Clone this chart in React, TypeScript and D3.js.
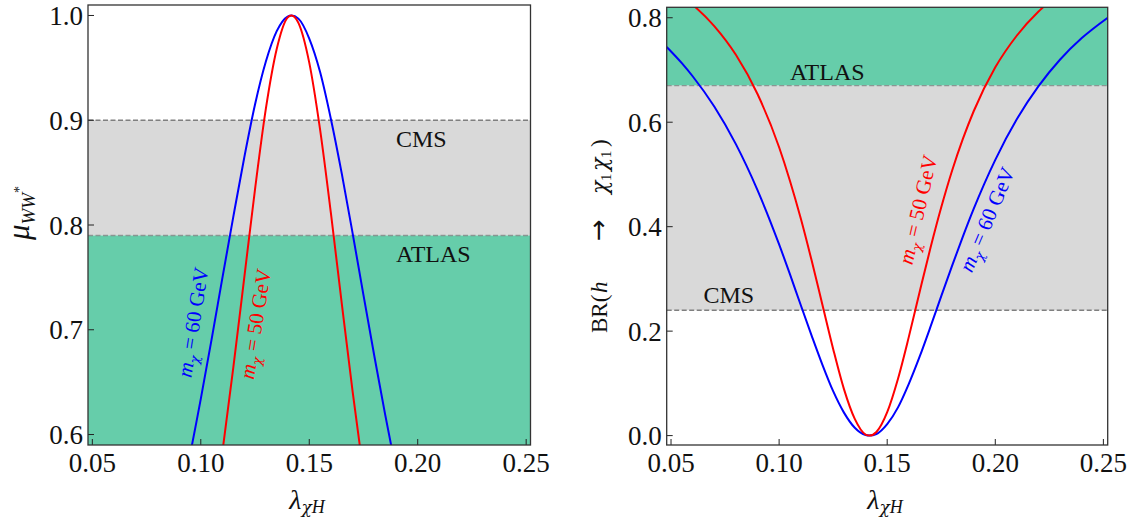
import React from 'react';
import * as d3 from 'd3';

// lambda_{chi H} grid
const lambda = [0.048, 0.055, 0.06, 0.07, 0.08, 0.09, 0.10, 0.105, 0.11, 0.115, 0.12, 0.125, 0.13, 0.135, 0.14, 0.1418, 0.145, 0.15, 0.155, 0.16, 0.165, 0.17, 0.175, 0.18, 0.185, 0.19, 0.20, 0.21, 0.22, 0.23, 0.24, 0.252];

// BR(h -> chi1 chi1), right panel
const brBlue60 = [0.744, 0.713, 0.688, 0.630, 0.558, 0.470, 0.366, 0.309, 0.250, 0.192, 0.136, 0.085, 0.044, 0.015, 0.001, 0.000, 0.003, 0.022, 0.054, 0.099, 0.151, 0.208, 0.267, 0.325, 0.381, 0.434, 0.528, 0.606, 0.669, 0.720, 0.761, 0.800];
const brRed50 = [0.861, 0.842, 0.825, 0.784, 0.729, 0.654, 0.552, 0.488, 0.416, 0.336, 0.251, 0.166, 0.089, 0.032, 0.002, 0.000, 0.007, 0.045, 0.109, 0.189, 0.275, 0.359, 0.437, 0.507, 0.568, 0.621, 0.705, 0.766, 0.812, 0.846, 0.872, 0.895];

// mu_{WW*}, left panel
const muBlue60 = [0.256, 0.287, 0.312, 0.370, 0.442, 0.530, 0.634, 0.691, 0.750, 0.808, 0.864, 0.915, 0.956, 0.985, 0.999, 1.000, 0.997, 0.978, 0.946, 0.901, 0.849, 0.792, 0.733, 0.675, 0.619, 0.566, 0.472, 0.394, 0.331, 0.280, 0.239, 0.200];
const muRed50 = [0.139, 0.158, 0.175, 0.216, 0.271, 0.346, 0.448, 0.512, 0.584, 0.664, 0.749, 0.834, 0.911, 0.968, 0.998, 1.000, 0.993, 0.955, 0.891, 0.811, 0.725, 0.641, 0.563, 0.493, 0.432, 0.379, 0.295, 0.234, 0.188, 0.154, 0.128, 0.105];

const xTicks = [0.05, 0.10, 0.15, 0.20, 0.25];
const yTicksLeft = [0.6, 0.7, 0.8, 0.9, 1.0];
const yTicksRight = [0.0, 0.2, 0.4, 0.6, 0.8];

// experimental bounds
const muCMS = 0.90;
const muATLAS = 0.79;
const brATLAS = 0.67;
const brCMS = 0.24;

const FONT = "'Liberation Serif', 'DejaVu Serif', serif";
const GREEK = "'DejaVu Serif', 'Liberation Serif', serif";
const GREEN = '#66cdaa';
const GRAY = '#d9d9d9';
const DASH = '#7f7f7f';

type Sc = d3.ScaleLinear<number, number>;

function Frame({ x, y, yTicks, yFmt }: { x: Sc; y: Sc; yTicks: number[]; yFmt: (n: number) => string }) {
  const [x0, x1] = x.range();
  const [y0, y1] = y.range();
  const fx = d3.format('.2f');
  return (
    <g>
      {xTicks.map((t) => (
        <g key={'xt' + t}>
          <line x1={x(t)} x2={x(t)} y1={y0} y2={y0 - 6} stroke="#222" strokeWidth={1} />
          <text x={x(t)} y={y0 + 27} textAnchor="middle" fontSize={27} fontFamily={FONT} fill="#111">{fx(t)}</text>
        </g>
      ))}
      {yTicks.map((t) => (
        <g key={'yt' + t}>
          <line x1={x0} x2={x0 + 6} y1={y(t)} y2={y(t)} stroke="#222" strokeWidth={1} />
          <text x={x0 - 5} y={y(t) + 9.5} textAnchor="end" fontSize={27} fontFamily={FONT} fill="#111">{yFmt(t)}</text>
        </g>
      ))}
      <rect x={x0} y={y1} width={x1 - x0} height={y0 - y1} fill="none" stroke="#333" strokeWidth={1.3} />
    </g>
  );
}

function CurveLabel({ cx, cy, angle, color, mass }: { cx: number; cy: number; angle: number; color: string; mass: string }) {
  return (
    <text transform={`translate(${cx},${cy}) rotate(${angle})`} textAnchor="middle" y={6} fontSize={21} fontFamily={FONT} fill={color}>
      <tspan fontStyle="italic">m</tspan>
      <tspan fontStyle="italic" fontFamily={GREEK} fontSize={13} dy={5}>χ</tspan>
      <tspan dy={-5}>{` = ${mass} GeV`}</tspan>
    </text>
  );
}

function XLabel({ cx }: { cx: number }) {
  return (
    <text x={cx} y={509} textAnchor="middle" fill="#111">
      <tspan fontStyle="italic" fontSize={28} fontFamily={FONT}>λ</tspan>
      <tspan fontStyle="italic" fontSize={17} dy={4} fontFamily={GREEK}>χ</tspan>
      <tspan fontStyle="italic" fontSize={18} fontFamily={FONT}>H</tspan>
    </text>
  );
}

export default function App() {
  const xL = d3.scaleLinear().domain([0.048, 0.252]).range([88, 530.5]);
  const yL = d3.scaleLinear().domain([0.59, 1.01]).range([445, 5]);
  const xR = d3.scaleLinear().domain([0.048, 0.252]).range([666.7, 1107.7]);
  const yR = d3.scaleLinear().domain([-0.018, 0.82]).range([445, 7.3]);

  const idx = lambda.map((_, i) => i);
  const lineL = (vals: number[]) =>
    d3.line<number>().x((i) => xL(lambda[i])).y((i) => yL(vals[i])).curve(d3.curveMonotoneX)(idx) || '';
  const lineR = (vals: number[]) =>
    d3.line<number>().x((i) => xR(lambda[i])).y((i) => yR(vals[i])).curve(d3.curveMonotoneX)(idx) || '';

  const [lx0, lx1] = xL.range();
  const [ly0, ly1] = yL.range();
  const [rx0, rx1] = xR.range();
  const [ry0, ry1] = yR.range();
  const f1 = d3.format('.1f');

  return (
    <svg width={1133} height={520} style={{ position: 'absolute', left: 0, top: 0, background: '#fff' }}>
      <defs>
        <clipPath id="clipL"><rect x={lx0} y={ly1} width={lx1 - lx0} height={ly0 - ly1} /></clipPath>
        <clipPath id="clipR"><rect x={rx0} y={ry1} width={rx1 - rx0} height={ry0 - ry1} /></clipPath>
      </defs>

      {/* LEFT PANEL */}
      <g clipPath="url(#clipL)">
        <rect x={lx0} y={yL(muCMS)} width={lx1 - lx0} height={yL(muATLAS) - yL(muCMS)} fill={GRAY} />
        <rect x={lx0} y={yL(muATLAS)} width={lx1 - lx0} height={ly0 - yL(muATLAS)} fill={GREEN} />
        <line x1={lx0} x2={lx1} y1={yL(muCMS)} y2={yL(muCMS)} stroke={DASH} strokeWidth={1.3} strokeDasharray="5,2.5" />
        <line x1={lx0} x2={lx1} y1={yL(muATLAS)} y2={yL(muATLAS)} stroke={DASH} strokeOpacity={0.75} strokeWidth={1.3} strokeDasharray="5,2.5" />
        <path d={lineL(muBlue60)} fill="none" stroke="#0000ff" strokeWidth={2} />
        <path d={lineL(muRed50)} fill="none" stroke="#ff0000" strokeWidth={2} />
      </g>
      <text x={xL(0.19)} y={yL(0.874)} fontSize={24} fontFamily={FONT} fill="#111">CMS</text>
      <text x={xL(0.19)} y={yL(0.765)} fontSize={24} fontFamily={FONT} fill="#111">ATLAS</text>
      <CurveLabel cx={xL(0.0969)} cy={yL(0.707)} angle={-81} color="#0000ff" mass="60" />
      <CurveLabel cx={xL(0.1257)} cy={yL(0.7055)} angle={-81} color="#ff0000" mass="50" />
      <Frame x={xL} y={yL} yTicks={yTicksLeft} yFmt={f1} />
      <XLabel cx={307} />
      <text transform="translate(29,213) rotate(-90)" textAnchor="middle" fill="#111">
        <tspan fontStyle="italic" fontSize={31} fontFamily={FONT}>μ</tspan>
        <tspan fontStyle="italic" fontSize={19} dy={6} fontFamily={FONT}>WW</tspan>
        <tspan fontSize={14} dy={-11} fontFamily={FONT}>*</tspan>
      </text>

      {/* RIGHT PANEL */}
      <g clipPath="url(#clipR)">
        <rect x={rx0} y={ry1} width={rx1 - rx0} height={yR(brATLAS) - ry1} fill={GREEN} />
        <rect x={rx0} y={yR(brATLAS)} width={rx1 - rx0} height={yR(brCMS) - yR(brATLAS)} fill={GRAY} />
        <line x1={rx0} x2={rx1} y1={yR(brATLAS)} y2={yR(brATLAS)} stroke={DASH} strokeOpacity={0.75} strokeWidth={1.3} strokeDasharray="5,2.5" />
        <line x1={rx0} x2={rx1} y1={yR(brCMS)} y2={yR(brCMS)} stroke={DASH} strokeWidth={1.3} strokeDasharray="5,2.5" />
        <path d={lineR(brBlue60)} fill="none" stroke="#0000ff" strokeWidth={2} />
        <path d={lineR(brRed50)} fill="none" stroke="#ff0000" strokeWidth={2} />
      </g>
      <text x={xR(0.105)} y={yR(0.681)} fontSize={24} fontFamily={FONT} fill="#111">ATLAS</text>
      <text x={xR(0.065)} y={yR(0.254)} fontSize={24} fontFamily={FONT} fill="#111">CMS</text>
      <CurveLabel cx={xR(0.1647)} cy={yR(0.432)} angle={-77} color="#ff0000" mass="50" />
      <CurveLabel cx={xR(0.1966)} cy={yR(0.413)} angle={-67} color="#0000ff" mass="60" />
      <Frame x={xR} y={yR} yTicks={yTicksRight} yFmt={f1} />
      <XLabel cx={885} />
      <g transform="translate(607,333) rotate(-90)" fill="#111" fontSize={23} fontFamily={FONT}>
        <text x={0} y={0}>BR(</text>
        <text x={40} y={0} fontStyle="italic">h</text>
        <text x={92} y={0} fontFamily="'DejaVu Sans', sans-serif" fontSize={26}>→</text>
        <text x={139} y={0} fontStyle="italic" fontFamily={GREEK} fontSize={22}>χ</text>
        <text x={152} y={4} fontSize={15}>1</text>
        <text x={162} y={0} fontStyle="italic" fontFamily={GREEK} fontSize={22}>χ</text>
        <text x={175} y={4} fontSize={15}>1</text>
        <text x={186} y={0}>)</text>
      </g>
    </svg>
  );
}
